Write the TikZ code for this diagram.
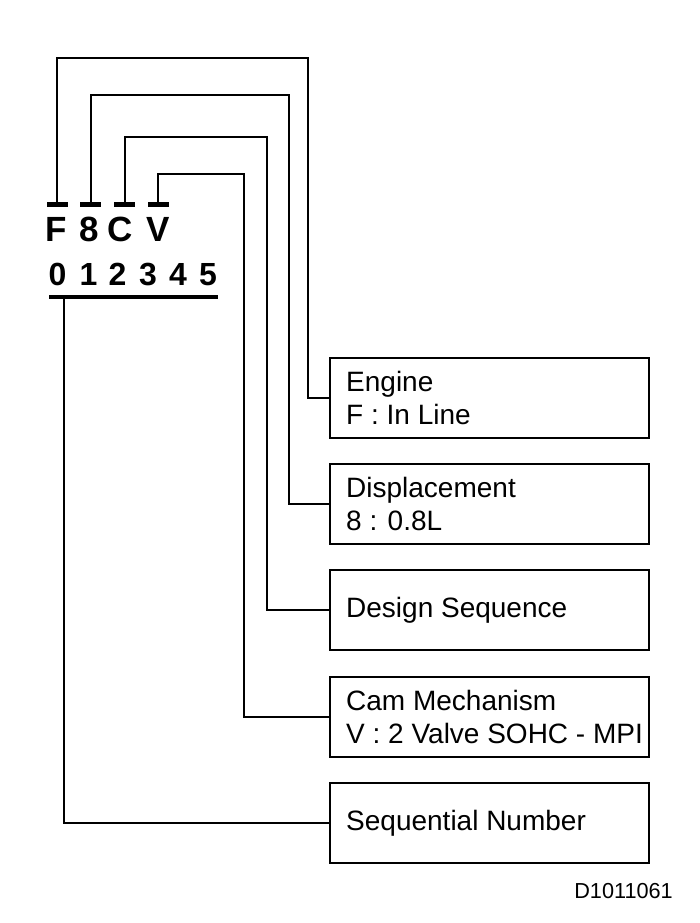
\documentclass[tikz,border=0pt]{standalone}
\usepackage{fontspec}
\setmainfont{Liberation Sans}
\usetikzlibrary{calc}
\begin{document}
\begin{tikzpicture}[x=1pt,y=-1pt,
  conn/.style={line width=2pt},
  box/.style={draw,line width=2.4pt,minimum width=319pt,minimum height=80pt,inner sep=0pt,anchor=north west},
  lbl/.style={anchor=west,align=left,inner sep=0pt,font=\fontsize{28}{33}\selectfont},
  letter/.style={anchor=base,inner sep=0pt,font=\fontsize{35}{40}\selectfont\bfseries},
  digit/.style={anchor=base,inner sep=0pt,font=\fontsize{32}{36}\selectfont\bfseries},
  tickbar/.style={fill=black,inner sep=0pt,minimum width=21pt,minimum height=5pt},
  ulbar/.style={fill=black,inner sep=0pt,minimum width=169pt,minimum height=4pt}]
\useasboundingbox (0,0) rectangle (700,923);

% code letters
\node[letter] (lF) at (56.5,241) {F};
\node[letter] (l8) at (89.5,241) {8};
\node[letter] (lC) at (120.5,241) {C};
\node[letter] (lV) at (158.5,241) {V};

% tick bars
\node[tickbar] (kF) at (57,204.5) {};
\node[tickbar] (k8) at (90.5,204.5) {};
\node[tickbar] (kC) at (124.5,204.5) {};
\node[tickbar] (kV) at (158,204.5) {};

% digits
\node[digit] (d0) at (57.5,285) {0};
\node[digit] (d1) at (88.5,285) {1};
\node[digit] (d2) at (117.5,285) {2};
\node[digit] (d3) at (148,285) {3};
\node[digit] (d4) at (178,285) {4};
\node[digit] (d5) at (208,285) {5};
\node[ulbar] (ul) at (133.5,296.7) {};

% boxes
\node[box] (b1) at (329,357) {};
\node[box] (b2) at (329,463) {};
\node[box] (b3) at (329,569) {};
\node[box] (b4) at (329,676) {};
\node[box] (b5) at (329,782) {};

\node[lbl] (t1) at ($(b1.west)+(17,0)$) {Engine\\F : In Line};
\node[lbl] (t2) at ($(b2.west)+(17,0)$) {Displacement\\8 : 0.8L};
\node[lbl] (t3) at ($(b3.west)+(17,0)$) {Design Sequence};
\node[lbl] (t4) at ($(b4.west)+(17,0)$) {Cam Mechanism\\V : 2 Valve SOHC - MPI};
\node[lbl] (t5) at ($(b5.west)+(17,0)$) {Sequential Number};

% connector corners
\coordinate (cF) at (308,58);
\coordinate (c8) at (289,95);
\coordinate (cC) at (267,137);
\coordinate (cV) at (244,174);
\coordinate (cS) at (64,297);

\draw[conn] (kF.north) |- (cF) |- (b1.west);
\draw[conn] (k8.north) |- (c8) |- (b2.west);
\draw[conn] (kC.north) |- (cC) |- (b3.west);
\draw[conn] (kV.north) |- (cV) |- (b4.west);
\draw[conn] (cS) |- (b5.west);

\node[anchor=base east,inner sep=0pt,font=\fontsize{21.7}{24}\selectfont] (code) at (673,898) {D1011061};
\end{tikzpicture}
\end{document}
